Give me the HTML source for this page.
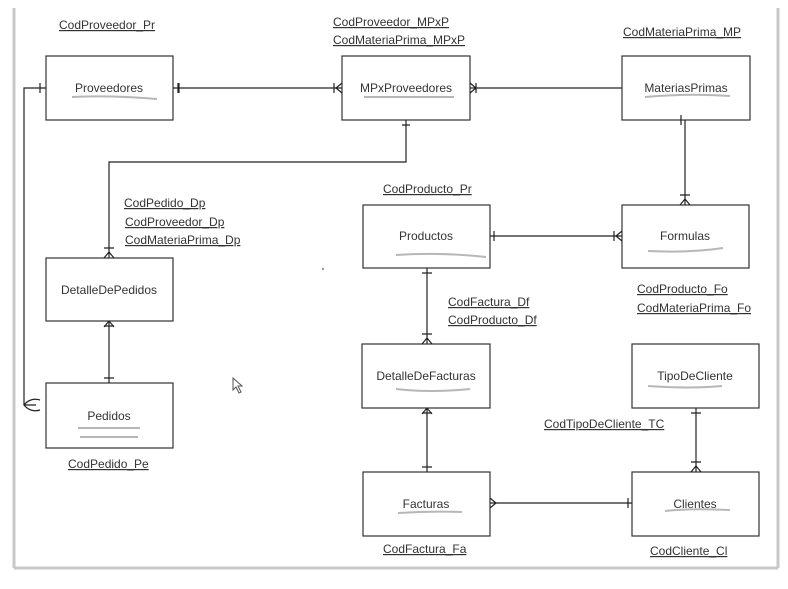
<!DOCTYPE html>
<html><head><style>
body{margin:0;width:788px;height:584px;background:#fff;overflow:hidden;font-family:"Liberation Sans",Arial,sans-serif}
svg text{font-family:"Liberation Sans",Arial,sans-serif;font-size:12px;fill:#333}
</style></head><body>
<svg width="788" height="584" xmlns="http://www.w3.org/2000/svg">
<rect x="0" y="0" width="788" height="584" fill="#fff"/>
<line x1="14" y1="8" x2="14" y2="568" stroke="#c8c8c8" stroke-width="3"/>
<line x1="14" y1="568" x2="778" y2="568" stroke="#c8c8c8" stroke-width="3"/>
<line x1="778" y1="8" x2="778" y2="568" stroke="#c8c8c8" stroke-width="3"/>
<g fill="#fff" stroke="#333" stroke-width="1.2">
<rect x="46" y="56" width="127" height="64"/>
<rect x="342" y="56" width="128" height="64"/>
<rect x="622" y="56" width="128" height="64"/>
<rect x="363" y="205" width="127" height="63"/>
<rect x="622" y="205" width="127" height="63"/>
<rect x="46" y="258" width="127" height="63"/>
<rect x="362" y="344" width="128" height="64"/>
<rect x="632" y="344" width="127" height="64"/>
<rect x="46" y="383" width="127" height="65"/>
<rect x="363" y="472" width="127" height="64"/>
<rect x="632" y="472" width="127" height="64"/>
</g>
<g stroke="#222" stroke-width="1.2" fill="none">
<path d="M173 88H342M470 88H622M406 120V162H109V258M685 120V205M490 236H622M427 268V344M109 321V383M427 408V472M490 503H632M696 408V472"/>
<path d="M46 88H24V405H36M24 405C28 400 34 398 40 400M24 405C28 410 34 412 40 410"/>
<path d="M40 83V93M178 83V93M179 83V93M402 125H410M681 115V125"/>
<path d="M334 83V93M342 83L336 88L342 93M470 83L476 88L470 93M476 83V93"/>
<path d="M104 248H114M109 252L104 258M109 252L114 258"/>
<path d="M680 195H690M685 199L680 205M685 199L690 205"/>
<path d="M494 231V241M614 231V241M622 231L616 236L622 241"/>
<path d="M422 273H432M422 334H432M427 338L422 344M427 338L432 344"/>
<path d="M104 326H114M109 321L104 327M109 321L114 327M104 378H114"/>
<path d="M422 413H432M427 408L422 414M427 408L432 414M422 467H432"/>
<path d="M490 498L496 503L490 508M628 498V508"/>
<path d="M691 413H701M691 462H701M696 466L691 472M696 466L701 472"/>
</g>
<circle cx="323" cy="269" r="1.2" fill="#999"/>
<g stroke="#999" stroke-width="2" fill="none" opacity="0.7">
<path d="M72 97Q110 95 157 99"/>
<path d="M364 97H454M645 97Q690 93 730 96M396 255Q440 252 486 257M648 251Q690 253 723 248M396 389Q430 393 470 389M648 386Q690 389 722 386M398 513Q430 511 462 512M665 511Q690 508 730 510M78 428H140M80 437H138"/>
</g>
<g text-anchor="middle" font-size="12">
<text x="109" y="92">Proveedores</text>
<text x="406" y="92">MPxProveedores</text>
<text x="686" y="92">MateriasPrimas</text>
<text x="426" y="240">Productos</text>
<text x="685" y="240">Formulas</text>
<text x="109" y="294">DetalleDePedidos</text>
<text x="426" y="380">DetalleDeFacturas</text>
<text x="695" y="380">TipoDeCliente</text>
<text x="109" y="420">Pedidos</text>
<text x="426" y="508">Facturas</text>
<text x="695" y="508">Clientes</text>
</g>
<g>
<text x="59" y="29" text-decoration="underline">CodProveedor_Pr</text>
<text x="333" y="26" text-decoration="underline">CodProveedor_MPxP</text>
<text x="333" y="44" text-decoration="underline">CodMateriaPrima_MPxP</text>
<text x="623" y="36" text-decoration="underline">CodMateriaPrima_MP</text>
<text x="124" y="207" text-decoration="underline">CodPedido_Dp</text>
<text x="125" y="226" text-decoration="underline">CodProveedor_Dp</text>
<text x="125" y="244" text-decoration="underline">CodMateriaPrima_Dp</text>
<text x="383" y="193" text-decoration="underline">CodProducto_Pr</text>
<text x="637" y="293" text-decoration="underline">CodProducto_Fo</text>
<text x="637" y="312" text-decoration="underline">CodMateriaPrima_Fo</text>
<text x="448" y="306" text-decoration="underline">CodFactura_Df</text>
<text x="448" y="324" text-decoration="underline">CodProducto_Df</text>
<text x="544" y="428" text-decoration="underline">CodTipoDeCliente_TC</text>
<text x="68" y="468" text-decoration="underline">CodPedido_Pe</text>
<text x="383" y="553" text-decoration="underline">CodFactura_Fa</text>
<text x="650" y="555" text-decoration="underline">CodCliente_Cl</text>
</g>
<path d="M233 378V390L236 387L239 393L241 392L238 386H242Z" fill="#fff" stroke="#555"/>
</svg>
</body></html>
